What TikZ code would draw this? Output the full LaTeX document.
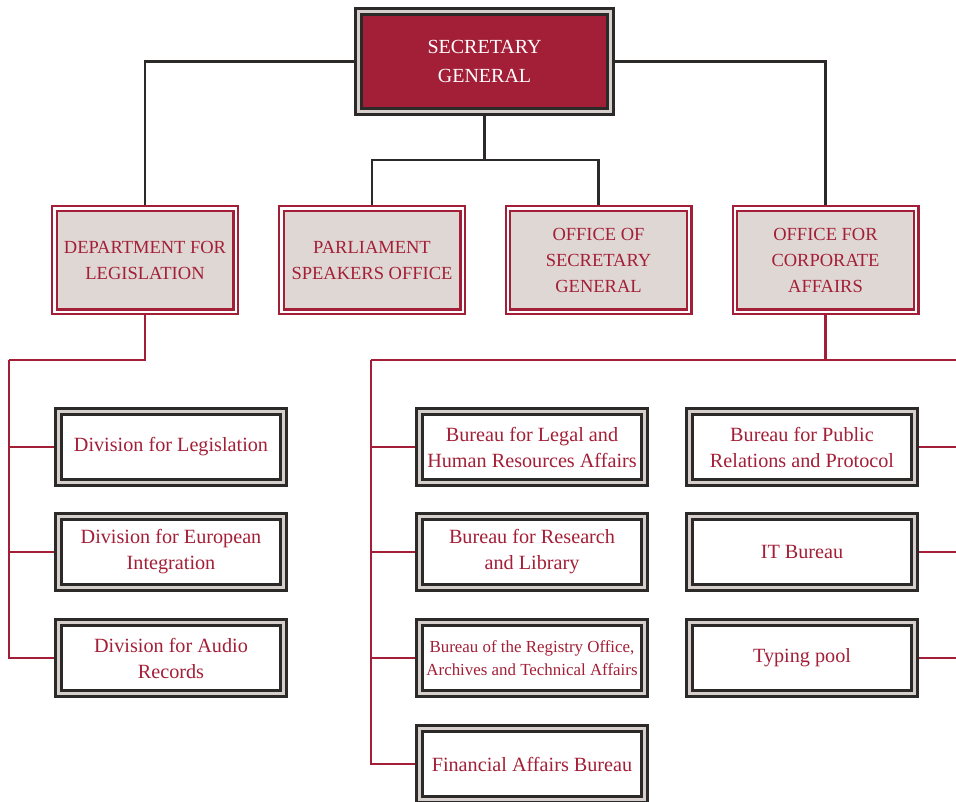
\documentclass[tikz,border=0pt]{standalone}
\usepackage{fontspec}
\setmainfont{Liberation Serif}
\usetikzlibrary{backgrounds}
\definecolor{crimson}{HTML}{A31F37}
\definecolor{darkline}{HTML}{2B2A29}
\definecolor{band}{HTML}{D6CFCB}
\definecolor{midfill}{HTML}{DFD7D4}
\begin{document}
\begin{tikzpicture}[x=1pt,y=-1pt,
  topbox/.style={draw=darkline, line width=3pt, double=band, double distance=3pt,
    fill=crimson, text=white, minimum width=252pt, minimum height=100pt, inner sep=0pt,
    align=center, font=\fontsize{20}{29}\selectfont},
  midbox/.style={draw=crimson, line width=2.3pt, double=white, double distance=2.2pt,
    fill=midfill, text=crimson, minimum width=181.2pt, minimum height=103.2pt, inner sep=0pt,
    align=center, font=\fontsize{18.5}{26}\selectfont},
  lowbox/.style={draw=darkline, line width=3pt, double=band, double distance=3pt,
    fill=white, text=crimson, minimum width=225pt, minimum height=71pt, inner sep=0pt,
    align=center, font=\fontsize{20.2}{26}\selectfont},
  blackline/.style={draw=darkline, line width=2.3pt},
  redline/.style={draw=crimson, line width=2.3pt}]
\useasboundingbox (0,0) rectangle (956,801);

\node[topbox] (sg) at (484.5,61.5) {SECRETARY\\GENERAL};

\node[midbox] (dl) at (145,260) {DEPARTMENT FOR\\LEGISLATION};
\node[midbox] (pso) at (372,260) {PARLIAMENT\\SPEAKERS OFFICE};
\node[midbox] (osg) at (598.5,260) {OFFICE OF\\SECRETARY\\GENERAL};
\node[midbox] (oca) at (825.5,260) {OFFICE FOR\\CORPORATE\\AFFAIRS};

\node[lowbox] (d1) at (171,447) {Division for Legislation};
\node[lowbox] (d2) at (171,552) {Division for European\\Integration};
\node[lowbox] (d3) at (171,658) {Division for Audio\\Records};

\node[lowbox] (b1) at (532,447) {Bureau for Legal and\\Human Resources Affairs};
\node[lowbox] (b2) at (532,552) {Bureau for Research\\and Library};
\node[lowbox, font=\fontsize{16.9}{23}\selectfont] (b3) at (532,658) {Bureau of the Registry Office,\\Archives and Technical Affairs};
\node[lowbox] (b4) at (532,764) {Financial Affairs Bureau};

\node[lowbox] (p1) at (802,447) {Bureau for Public\\Relations and Protocol};
\node[lowbox] (p2) at (802,552) {IT Bureau};
\node[lowbox] (p3) at (802,658) {Typing pool};

\coordinate (j1) at (484.5,160);
\coordinate (lb) at (9,360);
\coordinate (mb) at (371,360);
\coordinate (rb) at (956,360);

\begin{pgfonlayer}{background}
\draw[blackline] (sg.west) -| (dl.north);
\draw[blackline] (sg.east) -| (oca.north);
\draw[blackline] (sg.south) -- (j1);
\draw[blackline] (pso.north) |- (j1) -| (osg.north);

\draw[redline] (dl.south) |- (lb);
\draw[redline] (lb) |- (d1.west);
\draw[redline] (lb) |- (d2.west);
\draw[redline] (lb) |- (d3.west);

\draw[redline] (oca.south) |- (mb);
\draw[redline] (oca.south) |- (rb);
\draw[redline] (mb) |- (b1.west);
\draw[redline] (mb) |- (b2.west);
\draw[redline] (mb) |- (b3.west);
\draw[redline] (mb) |- (b4.west);

\draw[redline] (p1.east) -- (p1.east -| rb);
\draw[redline] (p2.east) -- (p2.east -| rb);
\draw[redline] (p3.east) -- (p3.east -| rb);
\end{pgfonlayer}
\end{tikzpicture}
\end{document}
